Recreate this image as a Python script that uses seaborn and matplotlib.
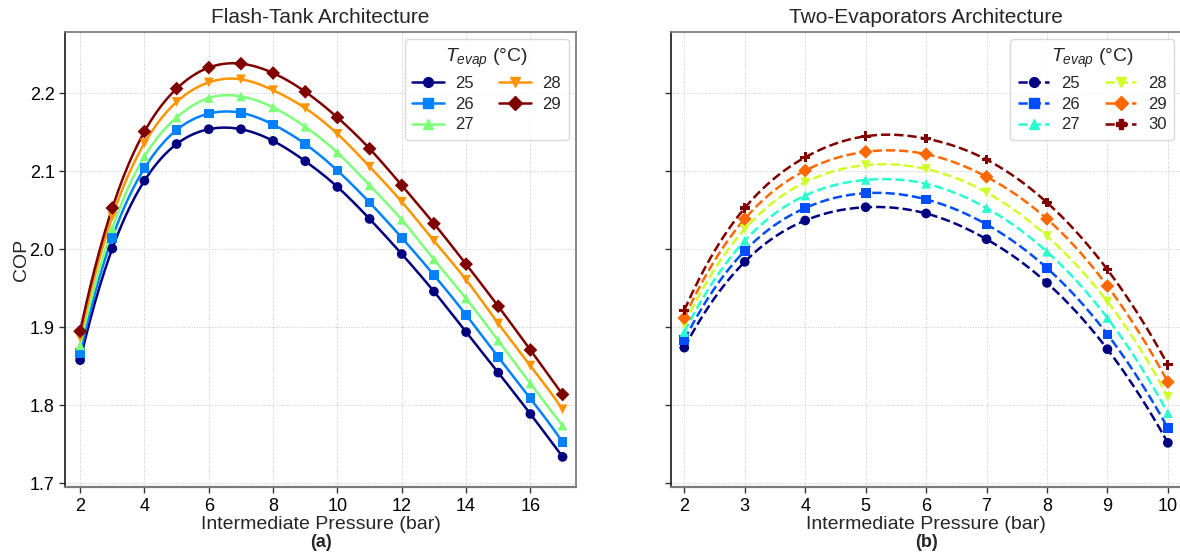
import numpy as np
import pandas as pd
import matplotlib
matplotlib.use("Agg")
import matplotlib.pyplot as plt
from matplotlib.lines import Line2D
import seaborn as sns

# ---- data -------------------------------------------------------------
t_evap_ft = [25, 26, 27, 28, 29]
p_ft = [2, 3, 4, 5, 6, 7, 8, 9, 10, 11, 12, 13, 14, 15, 16, 17]
cop_ft_25 = [1.858, 2.001, 2.088, 2.135, 2.154, 2.154, 2.139, 2.113, 2.080, 2.039, 1.994, 1.946, 1.894, 1.842, 1.789, 1.734]
cop_ft_26 = [1.867, 2.015, 2.104, 2.153, 2.174, 2.175, 2.160, 2.135, 2.101, 2.060, 2.015, 1.967, 1.916, 1.862, 1.809, 1.753]
cop_ft_27 = [1.877, 2.027, 2.119, 2.169, 2.194, 2.196, 2.182, 2.157, 2.124, 2.082, 2.038, 1.987, 1.937, 1.883, 1.828, 1.774]
cop_ft_28 = [1.887, 2.042, 2.136, 2.189, 2.214, 2.218, 2.204, 2.181, 2.148, 2.106, 2.061, 2.011, 1.961, 1.905, 1.851, 1.795]
cop_ft_29 = [1.895, 2.053, 2.151, 2.206, 2.233, 2.238, 2.226, 2.202, 2.169, 2.129, 2.082, 2.033, 1.981, 1.927, 1.871, 1.814]

t_evap_te = [25, 26, 27, 28, 29, 30]
p_te = [2, 3, 4, 5, 6, 7, 8, 9, 10]
cop_te_25 = [1.874, 1.984, 2.037, 2.054, 2.046, 2.013, 1.957, 1.872, 1.752]
cop_te_26 = [1.884, 1.998, 2.053, 2.072, 2.064, 2.032, 1.976, 1.891, 1.771]
cop_te_27 = [1.894, 2.011, 2.069, 2.089, 2.084, 2.053, 1.997, 1.912, 1.790]
cop_te_28 = [1.904, 2.026, 2.086, 2.108, 2.103, 2.073, 2.017, 1.933, 1.811]
cop_te_29 = [1.912, 2.039, 2.101, 2.125, 2.122, 2.093, 2.039, 1.953, 1.830]
cop_te_30 = [1.922, 2.053, 2.118, 2.145, 2.142, 2.115, 2.060, 1.974, 1.852]

cop_ft = [cop_ft_25, cop_ft_26, cop_ft_27, cop_ft_28, cop_ft_29]
cop_te = [cop_te_25, cop_te_26, cop_te_27, cop_te_28, cop_te_29, cop_te_30]

markers_ft = ["o", "s", "^", "v", "D"]
markers_te = ["o", "s", "^", "v", "D", "P"]


def smooth_curve(x, y, n=300):
    """Not-a-knot cubic spline through (x, y), used to draw smooth lines."""
    x = np.asarray(x, float)
    y = np.asarray(y, float)
    m = len(x)
    h = np.diff(x)
    A = np.zeros((m, m))
    b = np.zeros(m)
    for i in range(1, m - 1):
        A[i, i - 1] = h[i - 1]
        A[i, i] = 2 * (h[i - 1] + h[i])
        A[i, i + 1] = h[i]
        b[i] = 6 * ((y[i + 1] - y[i]) / h[i] - (y[i] - y[i - 1]) / h[i - 1])
    A[0, 0], A[0, 1], A[0, 2] = h[1], -(h[0] + h[1]), h[0]
    A[-1, -3], A[-1, -2], A[-1, -1] = h[-1], -(h[-2] + h[-1]), h[-2]
    M = np.linalg.solve(A, b)
    xs = np.linspace(x[0], x[-1], n)
    idx = np.clip(np.searchsorted(x, xs) - 1, 0, m - 2)
    x0, x1 = x[idx], x[idx + 1]
    hh = x1 - x0
    ys = (M[idx] * (x1 - xs) ** 3 / (6 * hh) + M[idx + 1] * (xs - x0) ** 3 / (6 * hh)
          + (y[idx] / hh - M[idx] * hh / 6) * (x1 - xs)
          + (y[idx + 1] / hh - M[idx + 1] * hh / 6) * (xs - x0))
    return xs, ys


def build_frames(temps, pressures, series):
    pts, curves = [], []
    for t, vals in zip(temps, series):
        pts.append(pd.DataFrame({"P": pressures, "COP": vals, "T": str(t)}))
        xs, ys = smooth_curve(pressures, vals)
        curves.append(pd.DataFrame({"P": xs, "COP": ys, "T": str(t)}))
    return pd.concat(pts, ignore_index=True), pd.concat(curves, ignore_index=True)


# ---- style ------------------------------------------------------------
sns.set_theme(style="ticks")
plt.rcParams["font.family"] = ["Liberation Sans", "DejaVu Sans"]
plt.rcParams["mathtext.fontset"] = "custom"
plt.rcParams["mathtext.rm"] = "Liberation Sans"
plt.rcParams["mathtext.it"] = "Liberation Sans:italic"
plt.rcParams["mathtext.bf"] = "Liberation Sans:bold"

jet = plt.get_cmap("jet")
colors_ft = [jet(v) for v in np.linspace(0, 1, len(t_evap_ft))]
colors_te = [jet(v) for v in np.linspace(0, 1, len(t_evap_te))]

fig = plt.figure(figsize=(11.8, 5.54), dpi=100)
ax1 = fig.add_axes([0.0551, 0.1204, 0.4331, 0.8224])
ax2 = fig.add_axes([0.5684, 0.1204, 0.4331, 0.8224], sharey=ax1)

LW = 1.8
MS = 7


def draw_panel(ax, temps, pressures, series, colors, markers, dashed):
    pts, curves = build_frames(temps, pressures, series)
    pal = {str(t): c for t, c in zip(temps, colors)}
    mk = {str(t): m for t, m in zip(temps, markers)}
    if dashed:
        dashes = {str(t): (3.7, 1.6) for t in temps}
    else:
        dashes = {str(t): "" for t in temps}
    sns.lineplot(data=curves, x="P", y="COP", hue="T", style="T", dashes=dashes,
                 palette=pal, estimator=None, sort=False, lw=LW, legend=False,
                 ax=ax, zorder=2)
    sns.scatterplot(data=pts, x="P", y="COP", hue="T", style="T", markers=mk,
                    palette=pal, s=MS ** 2, linewidth=0, legend=False, ax=ax,
                    zorder=3)
    handles = [Line2D([], [], color=c, marker=m, ms=MS, lw=LW,
                      ls="--" if dashed else "-")
               for c, m in zip(colors, markers)]
    leg = ax.legend(handles, [str(t) for t in temps], title=r"$T_{evap}$ (°C)",
                    ncol=2, loc="upper right", fontsize=12, title_fontsize=14,
                    frameon=True, fancybox=True, framealpha=0.8,
                    columnspacing=1.5, handlelength=1.9, handletextpad=0.7,
                    labelspacing=0.35, borderpad=0.45, borderaxespad=0.45)
    leg.get_frame().set_edgecolor("#d0d0d0")
    ax.grid(True, ls=":", lw=0.7, color="#c8c8c8")
    ax.set_axisbelow(True)
    for side in ("top", "right", "bottom"):
        ax.spines[side].set_color("#7a7a7a")
    ax.spines["left"].set_color("#222222")
    ax.spines["bottom"].set_linewidth(1.6)
    ax.tick_params(axis="both", labelsize=13, length=4, width=1, colors="#333333",
                   labelcolor="black")


draw_panel(ax1, t_evap_ft, p_ft, cop_ft, colors_ft, markers_ft, dashed=False)
draw_panel(ax2, t_evap_te, p_te, cop_te, colors_te, markers_te, dashed=True)

ax1.set_xlim(1.53, 17.42)
ax1.set_xticks([2, 4, 6, 8, 10, 12, 14, 16])
ax2.set_xlim(1.775, 10.23)
ax2.set_xticks(p_te)
ax1.set_ylim(1.695, 2.279)
ax1.set_yticks([1.7, 1.8, 1.9, 2.0, 2.1, 2.2])
ax2.tick_params(axis="y", labelleft=False)

ax1.set_title("Flash-Tank Architecture", fontsize=15, pad=6)
ax2.set_title("Two-Evaporators Architecture", fontsize=15, pad=6)
ax1.set_ylabel("COP", fontsize=14, labelpad=0)
ax2.set_ylabel("")
for ax, tag in ((ax1, "(a)"), (ax2, "(b)")):
    ax.set_xlabel("Intermediate Pressure (bar)", fontsize=14, labelpad=1)
    ax.text(0.5, -0.103, tag, transform=ax.transAxes, ha="center", va="top",
            fontsize=13, fontweight="bold")

fig.savefig("out.png", dpi=100)
